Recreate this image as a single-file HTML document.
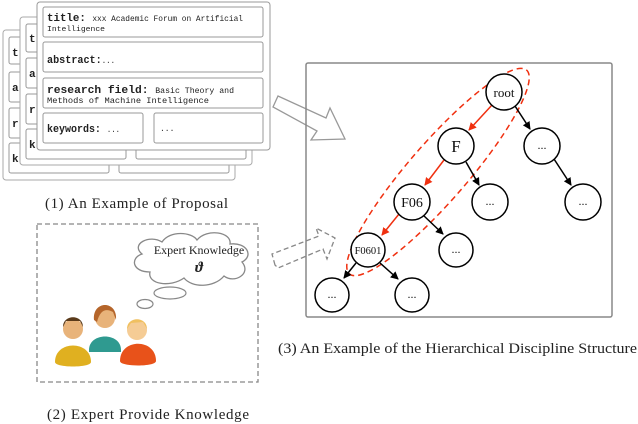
<!DOCTYPE html>
<html><head><style>body{margin:0;background:#fff}svg{display:block}</style></head><body>
<svg width="638" height="424" viewBox="0 0 638 424" xmlns="http://www.w3.org/2000/svg">
<defs>
<marker id="ab" markerWidth="8" markerHeight="8" refX="7" refY="4" orient="auto" markerUnits="userSpaceOnUse"><path d="M0,0 L8,4 L0,8 z" fill="#000"/></marker>
<marker id="ar" markerWidth="8" markerHeight="8" refX="7" refY="4" orient="auto" markerUnits="userSpaceOnUse"><path d="M0,0 L8,4 L0,8 z" fill="#f03010"/></marker>
</defs>
<g font-family="Liberation Mono, monospace" fill="#222">
<rect x="3" y="30" width="232" height="150" rx="3" fill="#fff" stroke="#aaa"/>
<rect x="9" y="37" width="14" height="27" rx="2" fill="#fff" stroke="#999"/>
<rect x="9" y="72" width="14" height="30" rx="2" fill="#fff" stroke="#999"/>
<rect x="9" y="108" width="14" height="30" rx="2" fill="#fff" stroke="#999"/>
<rect x="9" y="143" width="100" height="30" rx="2" fill="#fff" stroke="#999"/>
<rect x="119" y="143" width="110" height="30" rx="2" fill="#fff" stroke="#999"/>
<text x="12" y="56" font-size="11" font-weight="bold">t</text><text x="12" y="91" font-size="11" font-weight="bold">a</text><text x="12" y="127" font-size="11" font-weight="bold">r</text><text x="12" y="162" font-size="11" font-weight="bold">k</text>
<rect x="20" y="17" width="232" height="148" rx="3" fill="#fff" stroke="#aaa"/>
<rect x="26" y="24" width="14" height="28" rx="2" fill="#fff" stroke="#999"/>
<rect x="26" y="58" width="14" height="30" rx="2" fill="#fff" stroke="#999"/>
<rect x="26" y="94" width="14" height="30" rx="2" fill="#fff" stroke="#999"/>
<rect x="26" y="129" width="100" height="30" rx="2" fill="#fff" stroke="#999"/>
<rect x="136" y="129" width="110" height="30" rx="2" fill="#fff" stroke="#999"/>
<text x="29" y="42" font-size="11" font-weight="bold">t</text><text x="29" y="77" font-size="11" font-weight="bold">a</text><text x="29" y="113" font-size="11" font-weight="bold">r</text><text x="29" y="148" font-size="11" font-weight="bold">k</text>
<rect x="37" y="2" width="233" height="148" rx="3" fill="#fff" stroke="#999"/>
<rect x="43" y="7" width="220" height="30" rx="2" fill="#fff" stroke="#999"/>
<rect x="43" y="42" width="220" height="30" rx="2" fill="#fff" stroke="#999"/>
<rect x="43" y="78" width="220" height="30" rx="2" fill="#fff" stroke="#999"/>
<rect x="43" y="113" width="100" height="30" rx="2" fill="#fff" stroke="#999"/>
<rect x="154" y="113" width="109" height="30" rx="2" fill="#fff" stroke="#999"/>
<text x="47" y="21" font-size="11" font-weight="bold" textLength="196" lengthAdjust="spacingAndGlyphs">title: <tspan font-size="8" font-weight="normal">xxx Academic Forum on Artificial</tspan></text>
<text x="47" y="31" font-size="7" textLength="58" lengthAdjust="spacingAndGlyphs">Intelligence</text>
<text x="47" y="63" font-size="11" font-weight="bold" textLength="68" lengthAdjust="spacingAndGlyphs">abstract:<tspan font-weight="normal" font-size="8">...</tspan></text>
<text x="47" y="93" font-size="11" font-weight="bold" textLength="187" lengthAdjust="spacingAndGlyphs">research field: <tspan font-size="8" font-weight="normal">Basic Theory and</tspan></text>
<text x="47" y="103" font-size="8" textLength="162" lengthAdjust="spacingAndGlyphs">Methods of Machine Intelligence</text>
<text x="47" y="132" font-size="11" font-weight="bold" textLength="73" lengthAdjust="spacingAndGlyphs">keywords: <tspan font-weight="normal" font-size="8">...</tspan></text>
<text x="160" y="131" font-size="8">...</text>
</g>
<g font-family="Liberation Serif, serif" fill="#222">
<text x="45" y="208" font-size="15" textLength="183" lengthAdjust="spacing">(1)  An Example of Proposal</text>
<text x="47" y="419" font-size="15" textLength="202" lengthAdjust="spacing">(2)  Expert Provide Knowledge</text>
<text x="278" y="353" font-size="15" textLength="359" lengthAdjust="spacingAndGlyphs">(3) An Example of the Hierarchical Discipline Structure</text>
</g>
<path d="M273,107 L278,96 L326,118 L330,108 L345,139 L311,140 L317,131 Z" fill="#fff" stroke="#999" stroke-width="1.3"/>
<path d="M275,265 L272,254 L319,236 L316,228 L335,238 L327,259 L323,249 L278,268 Z" fill="#fff" stroke="#888" stroke-width="1.3" stroke-dasharray="5,3"/>
<rect x="306" y="63" width="306" height="254" rx="2" fill="none" stroke="#888" stroke-width="1.5"/>
<ellipse cx="438" cy="172" rx="135" ry="29" transform="rotate(-49 438 172)" fill="none" stroke="#f03010" stroke-width="1.5" stroke-dasharray="6,4"/>
<g stroke-width="1.5">
<line x1="492" y1="105" x2="469" y2="130" stroke="#f03010" marker-end="url(#ar)"/>
<line x1="444" y1="160" x2="425" y2="185" stroke="#f03010" marker-end="url(#ar)"/>
<line x1="399" y1="214" x2="382" y2="235" stroke="#f03010" marker-end="url(#ar)"/>
<line x1="515" y1="106" x2="530" y2="129" stroke="#000" marker-end="url(#ab)"/>
<line x1="466" y1="162" x2="479" y2="185" stroke="#000" marker-end="url(#ab)"/>
<line x1="554" y1="159" x2="571" y2="185" stroke="#000" marker-end="url(#ab)"/>
<line x1="423" y1="215" x2="443" y2="234" stroke="#000" marker-end="url(#ab)"/>
<line x1="356" y1="263" x2="344" y2="278" stroke="#000" marker-end="url(#ab)"/>
<line x1="380" y1="263" x2="398" y2="279" stroke="#000" marker-end="url(#ab)"/>
</g>
<g fill="#fff" stroke="#000" stroke-width="1.5">
<circle cx="504" cy="92" r="18"/><circle cx="456" cy="146" r="18"/><circle cx="542" cy="146" r="18"/>
<circle cx="412" cy="202" r="18"/><circle cx="490" cy="202" r="18"/><circle cx="583" cy="202" r="18"/>
<circle cx="368" cy="250" r="17"/><circle cx="456" cy="250" r="17"/>
<circle cx="332" cy="295" r="17"/><circle cx="412" cy="295" r="17"/>
</g>
<g font-family="Liberation Serif, serif" fill="#111" text-anchor="middle">
<text x="504" y="97" font-size="13">root</text>
<text x="456" y="152" font-size="17">F</text>
<text x="412" y="207" font-size="14">F06</text>
<text x="368" y="254" font-size="10.5">F0601</text>
<text x="542" y="149" font-size="12">...</text><text x="490" y="205" font-size="12">...</text><text x="583" y="205" font-size="12">...</text>
<text x="456" y="253" font-size="12">...</text><text x="332" y="298" font-size="12">...</text><text x="412" y="298" font-size="12">...</text>
</g>
<rect x="37" y="224" width="221" height="158" fill="none" stroke="#888" stroke-width="1.3" stroke-dasharray="5,3"/>
<path d="M142,254 C130,244 150,234 162,242 C170,230 192,232 197,240 C207,228 232,232 230,244 C247,242 254,256 242,262 C252,274 234,284 224,276 C214,288 192,288 184,278 C170,288 147,284 150,272 C132,272 130,258 142,254 Z" fill="#fff" stroke="#888" stroke-width="1.3"/>
<text x="199" y="254" font-family="Liberation Serif, serif" font-size="12" text-anchor="middle" fill="#222">Expert Knowledge</text>
<text x="199" y="272" font-family="Liberation Serif, serif" font-size="15" font-style="italic" font-weight="bold" text-anchor="middle" fill="#222">ϑ</text>
<ellipse cx="170" cy="293" rx="16" ry="6" fill="#fff" stroke="#888" stroke-width="1.2"/>
<ellipse cx="145" cy="304" rx="8" ry="4.5" fill="#fff" stroke="#888" stroke-width="1.2"/>
<!-- people -->
<path d="M89,350 C89,332 121,332 121,350 L121,352 L89,352 Z" fill="#2f9a90"/>
<circle cx="105" cy="318" r="10" fill="#e8b37a"/><path d="M94,320 C92,300 118,300 116,320 L113,312 C106,308 100,310 97,322 Z" fill="#b5652a"/>
<path d="M55,362 C55,340 91,340 91,362 C91,368 55,368 55,362 Z" fill="#e0b020"/>
<circle cx="73" cy="329" r="10" fill="#e8b37a"/><path d="M63,327 C63,314 83,314 83,327 L80,321 L66,321 Z" fill="#5a3a1a"/>
<path d="M120,361 C120,338 156,338 156,361 C156,367 120,367 120,361 Z" fill="#e8521a"/>
<circle cx="137" cy="330" r="10" fill="#f5cc95"/><path d="M127,329 C127,316 147,316 147,329 L143,322 L131,323 Z" fill="#f0c060"/>
</svg>
</body></html>
